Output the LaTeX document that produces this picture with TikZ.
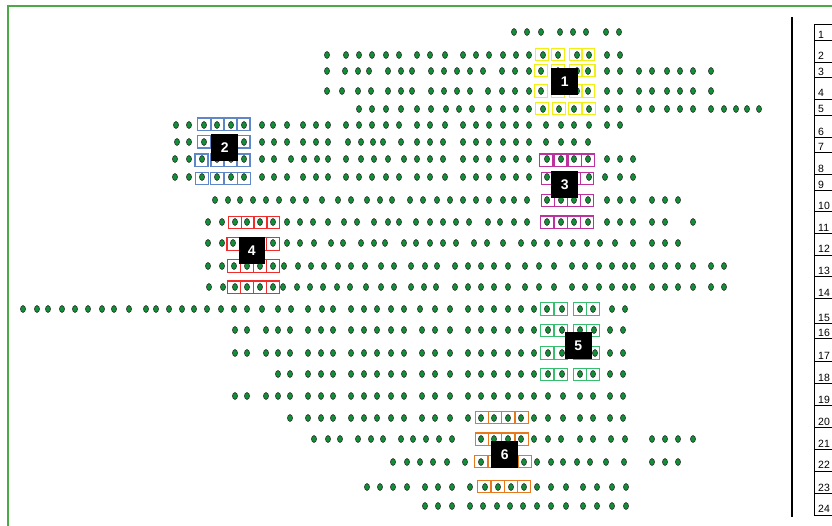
\documentclass[tikz,border=0pt]{standalone}
\usepackage{fontspec}
\setmainfont{Liberation Sans}
\definecolor{dotfill}{RGB}{15,145,55}
\definecolor{dotedge}{RGB}{45,55,45}
\definecolor{frameg}{RGB}{75,170,70}
\definecolor{cyel}{RGB}{240,240,20}
\definecolor{cblu}{RGB}{95,135,200}
\definecolor{cmag}{RGB}{190,50,160}
\definecolor{cred}{RGB}{240,45,45}
\definecolor{cgrn}{RGB}{55,190,110}
\definecolor{corg}{RGB}{230,120,30}
\tikzset{
  dotm/.style={fill=dotfill, draw=dotedge, line width=0.7pt},
  selbox/.style={draw=#1, line width=1.1pt},
  labl/.style={fill=black, text=white, font=\bfseries\fontsize{14}{14}\selectfont, minimum width=26.5pt, minimum height=27pt, inner sep=0pt},
  tline/.style={draw=black, line width=0.9pt},
  tnum/.style={anchor=base west, inner sep=0pt, font=\fontsize{10.5}{10.5}\selectfont},
}
\newcommand\dotrow[2]{\foreach \xx in {#2}{\path[dotm] (\xx,#1) ellipse [x radius=2.5pt, y radius=3.4pt];}}
\newcommand\boxrow[3]{\foreach \xx in {#3}{\draw[selbox=#1] ({\xx-6.5},{#2-6.2}) rectangle ({\xx+6.5},{#2+6.2});}}
\begin{document}
\begin{tikzpicture}[x=1pt,y=-1pt]
\useasboundingbox (0,0) rectangle (832,525);
\clip (0,0) rectangle (832,525);
% frame
\draw[frameg, line width=1.9pt] (7.7,535) -- (7.7,5.7) -- (845,5.7);
% dots
\dotrow{32}{514,527,541,560,573,586,606,619}
\dotrow{55}{327,346,359,372,386,399,417,430,445,463,476,489,503,516,529,543,558,577,589,607,620}
\dotrow{71}{327,345,358,369,388,401,412,431,444,457,470,483,502,515,529,541,558,577,588,607,620,639,652,667,680,693,711}
\dotrow{91}{327,342,358,371,388,401,412,431,444,457,470,488,502,515,529,541,558,577,588,607,620,639,652,667,680,693,711}
\dotrow{109}{359,372,386,401,417,431,446,459,472,489,503,516,529,543,559,574,589,607,620,639,652,667,680,693,711,724,736,747,759}
\dotrow{125}{176,189,204,217,231,244,262,273,287,303,316,328,346,359,372,386,399,417,430,445,463,476,489,503,516,529,546,561,574,589,607,620}
\dotrow{142}{177,189,204,217,231,244,262,274,287,303,316,328,348,361,373,383,401,417,430,443,463,476,489,503,516,529,546,561,574,588}
\dotrow{159}{175,189,202,217,231,244,262,274,291,304,317,328,346,361,374,388,404,417,430,443,463,476,489,503,516,529,547,561,574,588,607,620,633}
\dotrow{177}{175,189,202,217,231,244,262,274,287,303,316,328,346,359,372,386,399,417,430,445,463,476,489,503,516,529,547,561,574,589,605,620,633}
\dotrow{200}{215,228,240,253,266,279,293,306,322,338,351,367,380,392,410,423,437,450,463,476,489,503,514,527,547,561,574,588,607,620,633,652,665,678}
\dotrow{222}{208,222,235,247,260,273,287,300,313,328,344,357,374,388,399,416,430,443,456,469,488,500,514,527,547,561,574,588,607,620,633,652,665,693}
\dotrow{243}{208,222,233,247,260,273,287,300,314,331,343,361,374,385,404,416,430,443,456,474,487,503,521,534,547,560,573,587,600,615,633,652,665,678}
\dotrow{266}{208,222,234,247,260,273,284,298,311,324,338,351,365,381,394,411,425,437,455,468,481,494,508,525,539,554,572,585,599,612,625,633,652,665,678,693,711,724}
\dotrow{287}{209,223,235,247,260,273,283,297,310,323,337,350,366,381,394,411,424,436,455,468,481,494,508,525,539,554,572,585,599,612,625,633,652,665,678,693,711,724}
\dotrow{309}{23,37,48,62,75,88,102,114,129,146,156,169,182,194,207,221,234,247,262,278,291,308,322,333,351,364,377,391,404,420,435,450,468,481,494,508,521,534,547,562,580,593,612,625}
\dotrow{330}{235,247,266,278,290,308,321,333,351,364,377,391,404,422,435,450,468,481,494,508,521,534,548,562,580,594,610,623}
\dotrow{353}{235,247,266,278,290,308,321,333,351,364,377,391,404,422,435,450,468,481,494,508,521,534,548,562,580,595,610,623}
\dotrow{374}{278,290,308,321,333,351,364,377,391,404,422,435,450,468,481,494,508,521,534,548,562,580,593,610,623}
\dotrow{396}{235,247,266,278,290,308,321,333,351,364,377,391,404,422,435,450,468,481,494,508,521,534,548,563,580,593,610,623}
\dotrow{418}{290,308,321,333,351,364,377,391,404,422,435,450,468,481,494,508,521,534,548,563,580,593,610,623}
\dotrow{439}{314,328,340,358,371,383,401,413,426,439,452,481,494,508,521,534,548,561,580,593,611,625,652,665,678,693}
\dotrow{462}{393,407,420,433,447,465,481,494,508,524,537,551,563,577,590,606,624,652,665,678}
\dotrow{487}{367,380,393,407,425,438,452,470,485,498,511,524,537,551,566,583,597,612,626}
\dotrow{506}{425,438,452,470,483,497,510,523,537,551,566,583,597,612,626}
% group boxes
\boxrow{cyel}{54.5}{542.3,557.7,575.7,588.3}
\boxrow{cyel}{70.5}{541,558,576,588.5}
\boxrow{cyel}{91}{541,558,576,588}
\boxrow{cyel}{108.7}{542,558.8,575,588.7}
\boxrow{cblu}{124.2}{204.3,217.5,230.5,243.5}
\boxrow{cblu}{141.8}{204,217.5,230.5,243.5}
\boxrow{cblu}{160.2}{201.5,217.5,230.5,243.5}
\boxrow{cblu}{178.3}{202,217.3,231,244}
\boxrow{cmag}{160.2}{546.3,560.5,575,587.7}
\boxrow{cmag}{178.3}{547.7,561,574,587.3}
\boxrow{cmag}{200.5}{547.7,560.7,574,587}
\boxrow{cmag}{222.2}{547,560.7,574,586.7}
\boxrow{cred}{222.5}{234.7,247.7,260.5,273.3}
\boxrow{cred}{244}{233.5,247,260,273.3}
\boxrow{cred}{266}{234,247.2,260.3,273.3}
\boxrow{cred}{287.2}{234,247.2,260.3,273}
\boxrow{cgrn}{309}{546.7,561.2,580,593.3}
\boxrow{cgrn}{330.5}{547.3,561.2,580,593.3}
\boxrow{cgrn}{353}{547.3,561.2,580,593.3}
\boxrow{cgrn}{374.7}{546.7,561.2,580,593.3}
\boxrow{corg}{417.5}{481.7,495,508.3,521.7}
\boxrow{corg}{439.2}{481.7,495,508.3,521.7}
\boxrow{corg}{461.7}{481.3,495,508.3,524.7}
\boxrow{corg}{486.5}{484.3,497.7,511,524}
% labels
\node[labl] (lab1) at (564.7,81.5) {1};
\node[labl] (lab2) at (224.7,147.3) {2};
\node[labl] (lab3) at (564.7,184.5) {3};
\node[labl] (lab4) at (251.8,250.3) {4};
\node[labl] (lab5) at (578.3,345.5) {5};
\node[labl] (lab6) at (504.7,454.2) {6};
% separator
\draw[line width=2.2pt] (791.7,17) -- (791.7,517);
% table
\draw[tline] (814.3,24.3) -- (814.3,515);
\foreach \yy in {24.3,40.7,62,77.7,99,115,137.3,152.3,174.3,190.7,211.7,233.3,255,276.7,298.3,323.3,338.3,361.7,383.3,405.7,427.3,449.3,471,493.3,515}
  {\draw[tline] (814.3,\yy) -- (840,\yy);}
\foreach \n/\yy in {1/40.7,2/62,3/77.7,4/99,5/115,6/137.3,7/152.3,8/174.3,9/190.7,10/211.7,11/233.3,12/255,13/276.7,14/298.3,15/323.3,16/338.3,17/361.7,18/383.3,19/405.7,20/427.3,21/449.3,22/471,23/493.3,24/515}
  {\node[tnum] (t\n) at (818,{\yy-2.2}) {\n};}
\end{tikzpicture}
\end{document}
